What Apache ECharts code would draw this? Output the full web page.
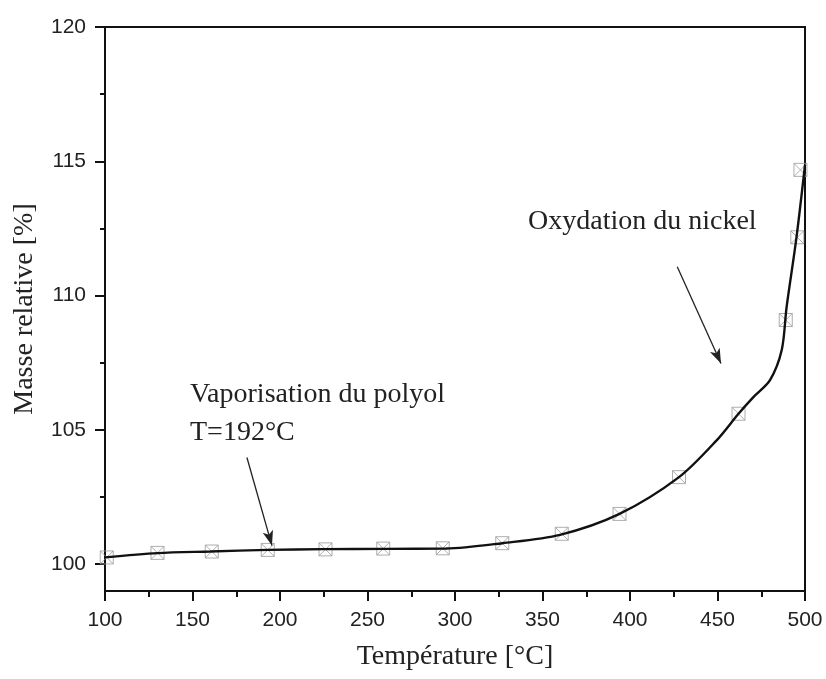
<!DOCTYPE html>
<html>
<head>
<meta charset="utf-8">
<title>Masse relative</title>
<script src="https://cdn.jsdelivr.net/npm/echarts@6/dist/echarts.min.js"></script>
<style>
  html, body { margin: 0; padding: 0; background: #fff; }
  #chart { width: 826px; height: 679px; }
</style>
</head>
<body>
<div id="chart"></div>
<script>
// Measured points (open squares)
const measTemp = [101, 130, 161, 193, 226, 259, 293, 327, 361, 394, 428, 462, 489, 495.6, 497.4];
const measMass = [100.25, 100.42, 100.47, 100.53, 100.55, 100.58, 100.59, 100.78, 101.13, 101.87, 103.24, 105.6, 109.09, 112.17, 114.68];

// Fitted curve
const curveTemp = [100, 130, 160, 193, 225, 260, 295, 327, 360, 394, 428, 449.5, 462, 470.5, 480, 486.7, 489.5, 495, 500];
const curveMass = [100.25, 100.41, 100.47, 100.53, 100.56, 100.57, 100.58, 100.78, 101.09, 101.87, 103.24, 104.61, 105.6, 106.22, 106.85, 107.97, 109.58, 112.1, 114.87];

// Axis ticks
const xTicks = [100, 150, 200, 250, 300, 350, 400, 450, 500];
const yMajor = [100, 105, 110, 115, 120];
const yMinor = [102.5, 107.5, 112.5, 117.5];

// Annotation arrows: [start, end] in data units
const arrowPolyol = [[181.1, 103.97], [195.4, 100.69]];
const arrowNickel = [[427.0, 111.07], [452.0, 107.47]];

const serif = '"Liberation Serif", "DejaVu Serif", serif';
const sans = '"Liberation Sans", Arial, sans-serif';

const chart = echarts.init(document.getElementById('chart'), null, { renderer: 'canvas' });

const zip = (a, b) => a.map((v, i) => [v, b[i]]);

const option = {
  backgroundColor: '#ffffff',
  animation: false,
  grid: {
    left: 105, right: 21, top: 27, bottom: 88,
    show: true, borderColor: '#111', borderWidth: 2, backgroundColor: 'transparent'
  },
  xAxis: {
    type: 'value', min: 100, max: 500, interval: 50,
    name: 'Température [°C]', nameLocation: 'middle', nameGap: 52,
    nameTextStyle: { fontFamily: serif, fontSize: 28, color: '#222' },
    axisLine: { show: true, onZero: false, lineStyle: { color: '#111', width: 2 } },
    axisTick: { show: true, inside: false, length: 10, lineStyle: { color: '#111', width: 2 } },
    minorTick: { show: true, splitNumber: 2, length: 6, lineStyle: { color: '#111', width: 2 } },
    axisLabel: { fontFamily: sans, fontSize: 21, color: '#222', margin: 19,
      customValues: xTicks },
    splitLine: { show: false }
  },
  yAxis: [
    {
      type: 'value', min: 99, max: 120,
      name: 'Masse relative [%]', nameLocation: 'middle', nameGap: 66, nameRotate: 90,
      nameTextStyle: { fontFamily: serif, fontSize: 28, color: '#222' },
      axisLine: { show: true, onZero: false, lineStyle: { color: '#111', width: 2 } },
      axisTick: { show: true, length: 10, lineStyle: { color: '#111', width: 2 }, customValues: yMajor },
      axisLabel: { fontFamily: sans, fontSize: 21, color: '#222', margin: 19, customValues: yMajor },
      splitLine: { show: false }
    },
    {
      type: 'value', min: 99, max: 120, position: 'left',
      axisLine: { show: false },
      axisTick: { show: true, length: 5, lineStyle: { color: '#111', width: 2 }, customValues: yMinor },
      axisLabel: { show: false },
      splitLine: { show: false }
    }
  ],
  series: [
    {
      type: 'scatter',
      data: zip(measTemp, measMass),
      symbol: 'path://M0,0L10,0L10,10L0,10Z M0,0L10,10 M10,0L0,10',
      symbolSize: 13,
      itemStyle: { color: 'transparent', borderColor: '#9a9a9a', borderWidth: 1 },
      z: 2
    },
    {
      type: 'line',
      data: zip(curveTemp, curveMass),
      showSymbol: false,
      smooth: 0.3,
      lineStyle: { color: '#111', width: 2.4 },
      z: 3,
      markLine: {
        silent: true,
        symbol: ['none', 'arrow'],
        symbolSize: [8, 15],
        label: { show: false },
        lineStyle: { color: '#222', width: 1.3, type: 'solid' },
        data: [
          [{ coord: arrowPolyol[0] }, { coord: arrowPolyol[1] }],
          [{ coord: arrowNickel[0] }, { coord: arrowNickel[1] }]
        ]
      }
    }
  ],
  graphic: [
    {
      type: 'text', x: 528, y: 222,
      style: { text: 'Oxydation du nickel', font: '28px ' + serif, fill: '#222', verticalAlign: 'middle' }
    },
    {
      type: 'text', x: 190, y: 395,
      style: { text: 'Vaporisation du polyol', font: '28px ' + serif, fill: '#222', verticalAlign: 'middle' }
    },
    {
      type: 'text', x: 190, y: 433,
      style: { text: 'T=192°C', font: '28px ' + serif, fill: '#222', verticalAlign: 'middle' }
    }
  ]
};

chart.setOption(option);
</script>
</body>
</html>
